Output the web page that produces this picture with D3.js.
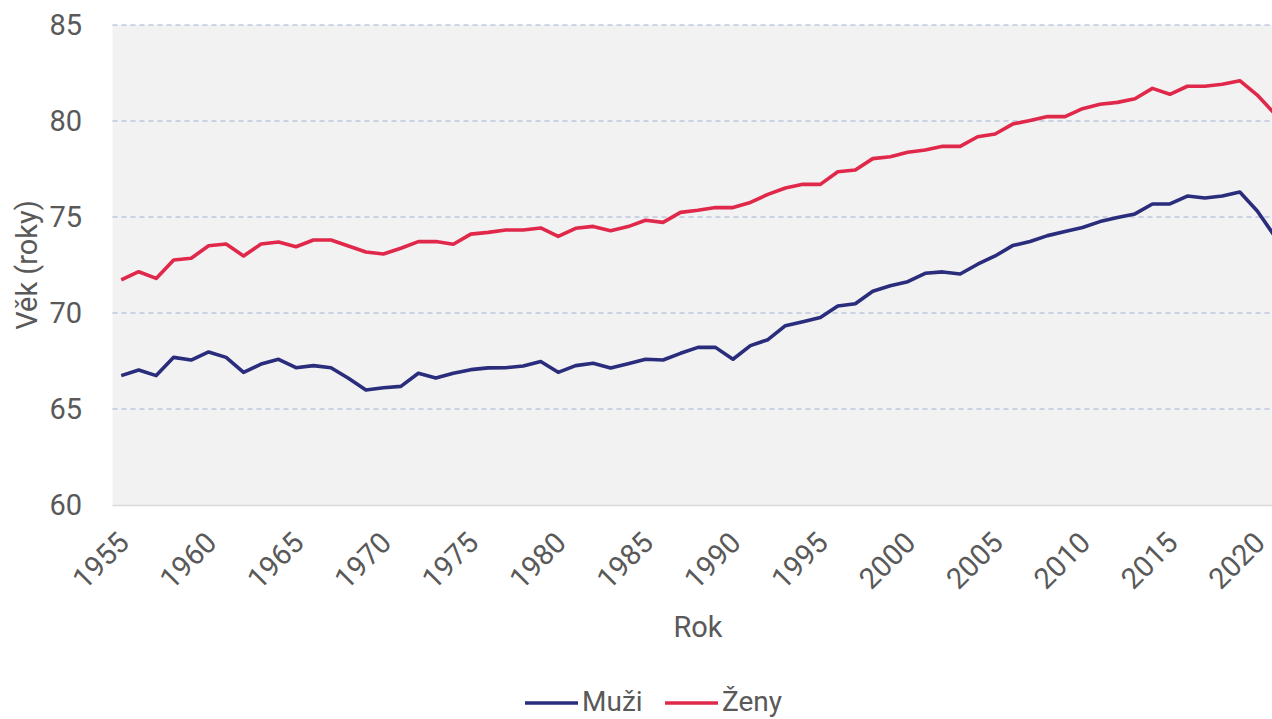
<!DOCTYPE html>
<html>
<head>
<meta charset="utf-8">
<script src="https://cdn.jsdelivr.net/npm/d3@7"></script>
<style>
  html, body { margin: 0; padding: 0; overflow: hidden; background: #fff; }
  text { font-family: Roboto, "Liberation Sans Narrow", sans-serif; fill: #595959; }
</style>
</head>
<body>
<div id="chart"></div>
<script>
// roky 1955-2021
var years = d3.range(1955, 2022);
var xTicks = [1955, 1960, 1965, 1970, 1975, 1980, 1985, 1990, 1995, 2000, 2005, 2010, 2015, 2020];
var yTicks = [60, 65, 70, 75, 80, 85];

var muzi = [66.74, 67.03, 66.74, 67.69, 67.55, 67.97, 67.69, 66.91, 67.34, 67.59,
            67.15, 67.26, 67.15, 66.6, 65.99, 66.11, 66.18, 66.86, 66.61, 66.86,
            67.05, 67.14, 67.15, 67.24, 67.47, 66.91, 67.26, 67.38, 67.14, 67.36,
            67.59, 67.55, 67.9, 68.21, 68.21, 67.59, 68.3, 68.61, 69.34, 69.55,
            69.76, 70.36, 70.48, 71.13, 71.42, 71.63, 72.07, 72.14, 72.03, 72.54,
            72.97, 73.51, 73.72, 74.03, 74.24, 74.45, 74.76, 74.97, 75.16, 75.68,
            75.68, 76.09, 75.99, 76.09, 76.3, 75.31, 74.0];
var zeny = [71.72, 72.15, 71.8, 72.76, 72.85, 73.5, 73.59, 72.97, 73.59, 73.7,
            73.45, 73.8, 73.8, 73.49, 73.18, 73.07, 73.37, 73.72, 73.72, 73.58,
            74.11, 74.2, 74.32, 74.32, 74.43, 73.99, 74.41, 74.51, 74.29, 74.5,
            74.83, 74.72, 75.24, 75.35, 75.49, 75.49, 75.76, 76.18, 76.51, 76.7,
            76.7, 77.36, 77.45, 78.04, 78.14, 78.37, 78.49, 78.68, 78.68, 79.18,
            79.32, 79.84, 80.03, 80.23, 80.23, 80.64, 80.87, 80.97, 81.16, 81.7,
            81.39, 81.81, 81.81, 81.91, 82.1, 81.35, 80.38];

var series = [
  { name: "Muži", values: muzi, color: "#2a2c7c" },
  { name: "Ženy", values: zeny, color: "#e0284a" }
];

var width = 1300, height = 719;
var mLeft = 112.5, mRight = 1283.5, mTop = 25, mBottom = 505;

var svg = d3.select("#chart").append("svg")
  .attr("width", width).attr("height", height);

var x = d3.scaleBand().domain(years).range([mLeft, mRight]);
var y = d3.scaleLinear().domain([60, 85]).range([mBottom, mTop]);
var cx = function(yr) { return x(yr) + x.bandwidth() / 2; };

// pozadi
svg.append("rect")
  .attr("x", mLeft).attr("y", mTop)
  .attr("width", mRight - mLeft).attr("height", mBottom - mTop)
  .attr("fill", "#f2f2f2");

// mrizka
svg.selectAll(".grid")
  .data(yTicks.filter(function(d) { return d > 60; }))
  .enter().append("line")
  .attr("x1", mLeft).attr("x2", mRight)
  .attr("y1", function(d) { return y(d); })
  .attr("y2", function(d) { return y(d); })
  .attr("stroke", "#9fb0d4")
  .attr("stroke-width", 1.2)
  .attr("stroke-dasharray", "5,4");

// osa x
svg.append("line")
  .attr("x1", mLeft).attr("x2", mRight)
  .attr("y1", mBottom + 0.5).attr("y2", mBottom + 0.5)
  .attr("stroke", "#d9d9d9").attr("stroke-width", 1.5);

// y popisky
var yAxis = d3.axisLeft(y).tickValues(yTicks).tickSize(0).tickPadding(0);
var gy = svg.append("g").attr("transform", "translate(82,0)").call(yAxis);
gy.select(".domain").remove();
gy.selectAll("text")
  .style("font-size", "29px")
  .attr("fill", "#595959")
  .attr("font-family", "Roboto, sans-serif");

// x popisky
var xAxis = d3.axisBottom(x).tickValues(xTicks).tickSize(0).tickFormat(d3.format("d"));
var gx = svg.append("g").attr("transform", "translate(0," + mBottom + ")").call(xAxis);
gx.select(".domain").remove();
gx.selectAll(".tick text")
  .attr("y", 0).attr("dy", "0.71em")
  .attr("text-anchor", "end")
  .attr("transform", "translate(-5,25) rotate(-45)")
  .style("font-size", "29px")
  .attr("fill", "#595959")
  .attr("font-family", "Roboto, sans-serif");

// linie
var line = d3.line()
  .x(function(d, i) { return cx(years[i]); })
  .y(function(d) { return y(d); });

svg.selectAll(".serie")
  .data(series)
  .enter().append("path")
  .attr("d", function(s) { return line(s.values); })
  .attr("fill", "none")
  .attr("stroke", function(s) { return s.color; })
  .attr("stroke-width", 3.6)
  .attr("stroke-linejoin", "round");

// nazvy os
svg.append("text")
  .attr("transform", "translate(37," + ((mTop + mBottom) / 2) + ") rotate(-90)")
  .attr("text-anchor", "middle")
  .style("font-size", "29px")
  .text("Věk (roky)");

svg.append("text")
  .attr("x", (mLeft + mRight) / 2).attr("y", 637)
  .attr("text-anchor", "middle")
  .style("font-size", "29px")
  .text("Rok");

// legenda
var legend = svg.append("g");
var lx = [525, 665];
series.forEach(function(s, i) {
  legend.append("line")
    .attr("x1", lx[i]).attr("x2", lx[i] + 53)
    .attr("y1", 703).attr("y2", 703)
    .attr("stroke", s.color).attr("stroke-width", 3.6);
  legend.append("text")
    .attr("x", lx[i] + 57).attr("y", 711)
    .style("font-size", "28px")
    .text(s.name);
});
</script>
</body>
</html>
